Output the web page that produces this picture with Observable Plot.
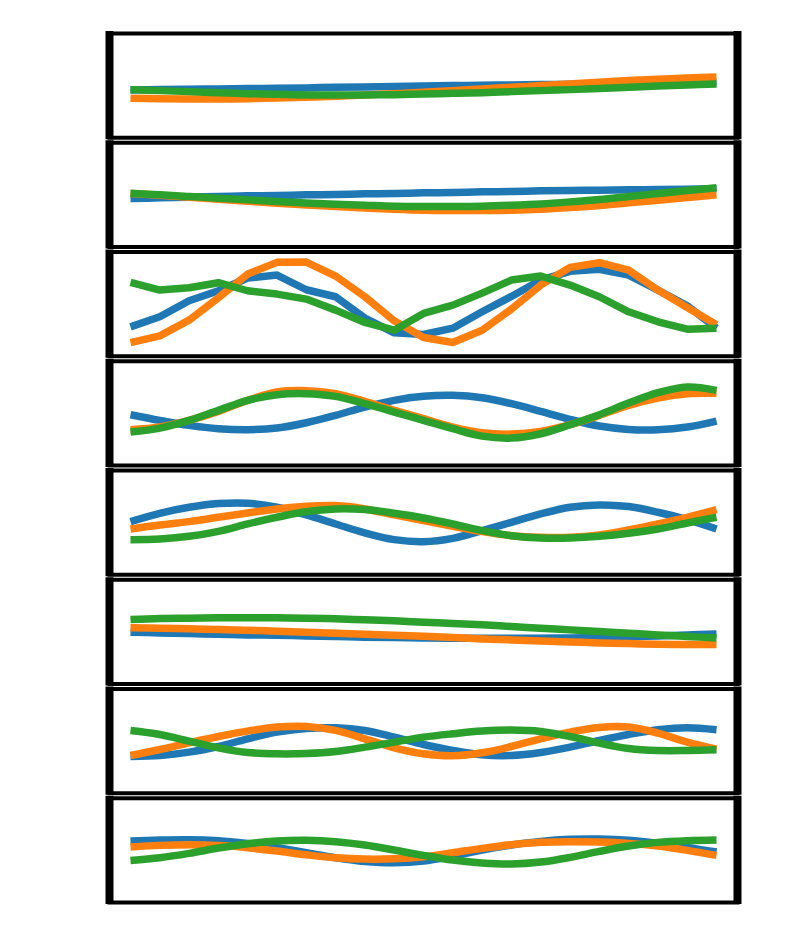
<!DOCTYPE html>
<html>
<head>
<meta charset="utf-8">
<script src="https://cdn.jsdelivr.net/npm/d3@7"></script>
<script src="https://cdn.jsdelivr.net/npm/@observablehq/plot@0.6"></script>
<style>
  html, body { margin: 0; padding: 0; background: #fff; overflow: hidden; }
</style>
</head>
<body>
<div id="chart"></div>
<script>
// x sample positions (shared by all series)
const xs = [0,1,2,3,4,5,6,7,8,9,10,11,12,13,14,15,16,17,18,19,20];
const panels = [1,2,3,4,5,6,7,8];
const seriesNames = ["C0", "C1", "C2"];
const seriesColors = ["#1f77b4", "#ff7f0e", "#2ca02c"];

// values (arbitrary units, 0 = bottom of panel, 312 = top)
const p1_blue   = [143,144,145,146,147,148,149,151,152,153,155,156,157,158,159,160,161,162,163,164,165];
const p1_orange = [118,117,116,116,117,119,121,124,128,132,136,141,146,151,156,161,166,171,175,179,182];
const p1_green  = [144,141,138,135,132,130,128,128,128,129,131,133,135,138,141,144,147,151,155,158,161];

const p2_blue   = [145,147,149,151,153,154,156,157,159,160,162,163,165,166,168,169,170,171,172,173,174];
const p2_orange = [160,155,149,143,137,131,126,121,117,113,110,109,109,110,113,118,124,132,140,148,156];
const p2_green  = [161,156,151,146,141,136,132,128,125,122,121,121,122,125,129,135,142,151,160,169,177];

const p3_blue   = [88,118,166,196,234,243,199,178,114,70,65,84,133,179,228,254,260,243,198,151,84];
const p3_orange = [41,61,108,175,246,281,282,240,178,106,56,41,78,141,213,266,280,258,198,146,94];
const p3_green  = [221,198,205,220,196,186,171,138,101,78,128,153,189,228,240,213,178,133,103,81,84];

const p4_blue   = [152,135,120,110,107,112,128,150,175,195,207,210,203,185,162,138,118,108,107,115,133];
const p4_orange = [107,115,135,162,195,220,224,215,192,165,140,115,98,94,102,122,150,180,202,215,216];
const p4_green  = [100,112,135,165,195,212,215,207,185,160,135,110,88,82,95,122,152,187,218,235,225];

const p5_blue   = [159,184,202,213,214,202,179,152,125,105,99,109,132,157,182,202,209,204,187,165,137];
const p5_orange = [137,149,159,172,185,197,205,207,197,179,162,145,129,117,112,112,119,134,152,172,195];
const p5_green  = [105,107,115,130,152,172,189,197,195,184,170,152,132,117,110,110,115,124,137,155,172];

const p6_blue   = [155,153,151,149,147,146,144,142,140,139,138,137,137,137,137,138,139,141,144,147,150];
const p6_orange = [168,167,165,163,161,158,155,152,149,146,143,139,135,132,129,126,123,121,119,118,118];
const p6_green  = [193,196,197,198,198,198,197,195,192,189,185,181,177,172,167,162,157,152,147,142,138];

const p7_blue   = [110,113,123,140,163,183,194,196,188,168,146,128,115,113,122,138,158,176,190,196,190];
const p7_orange = [113,131,151,170,186,198,200,188,163,136,118,112,121,140,163,183,197,198,180,153,132];
const p7_green  = [188,176,156,136,122,118,119,125,138,153,168,178,186,189,185,170,150,134,128,128,130];

const p8_blue   = [184,187,188,185,177,164,149,134,123,119,124,139,157,172,183,189,190,186,177,165,151];
const p8_orange = [166,171,173,171,164,154,143,134,130,131,137,149,162,173,180,182,181,177,169,156,141];
const p8_green  = [126,134,147,163,176,184,186,182,172,157,141,127,118,115,121,135,153,169,180,185,187];

const panelSeries = [
  [p1_blue, p1_orange, p1_green],
  [p2_blue, p2_orange, p2_green],
  [p3_blue, p3_orange, p3_green],
  [p4_blue, p4_orange, p4_green],
  [p5_blue, p5_orange, p5_green],
  [p6_blue, p6_orange, p6_green],
  [p7_blue, p7_orange, p7_green],
  [p8_blue, p8_orange, p8_green]
];

const rows = [];
panelSeries.forEach((group, pi) => {
  group.forEach((vals, si) => {
    vals.forEach((v, k) => rows.push({panel: panels[pi], series: seriesNames[si], x: xs[k], y: v}));
  });
});

const xPad = 0.716;
const xDomain = [xs[0] - xPad, xs[xs.length - 1] + xPad];

const chart = Plot.plot({
  width: 811,
  height: 951,
  marginLeft: 109,
  marginRight: 74,
  marginTop: 33,
  marginBottom: 49,
  facet: {data: rows, y: "panel"},
  fy: {domain: panels, axis: null, paddingInner: 0.046, paddingOuter: 0, round: false, label: null},
  x: {domain: xDomain, axis: null},
  y: {domain: [0, 312], axis: null},
  color: {type: "ordinal", domain: seriesNames, range: seriesColors},
  marks: [
    Plot.line(rows, {
      filter: d => d.panel !== 3,
      x: "x", y: "y", z: "series", stroke: "series",
      strokeWidth: 7.5, strokeLinecap: "butt", strokeLinejoin: "round",
      curve: "catmull-rom"
    }),
    Plot.line(rows, {
      filter: d => d.panel === 3,
      x: "x", y: "y", z: "series", stroke: "series",
      strokeWidth: 7.5, strokeLinecap: "butt", strokeLinejoin: "round"
    }),
    Plot.frame({stroke: "black", strokeWidth: 4}),
    Plot.ruleX(xDomain, {stroke: "black", strokeWidth: 8, insetTop: -2, insetBottom: -2})
  ]
});

document.getElementById("chart").appendChild(chart);
</script>
</body>
</html>
